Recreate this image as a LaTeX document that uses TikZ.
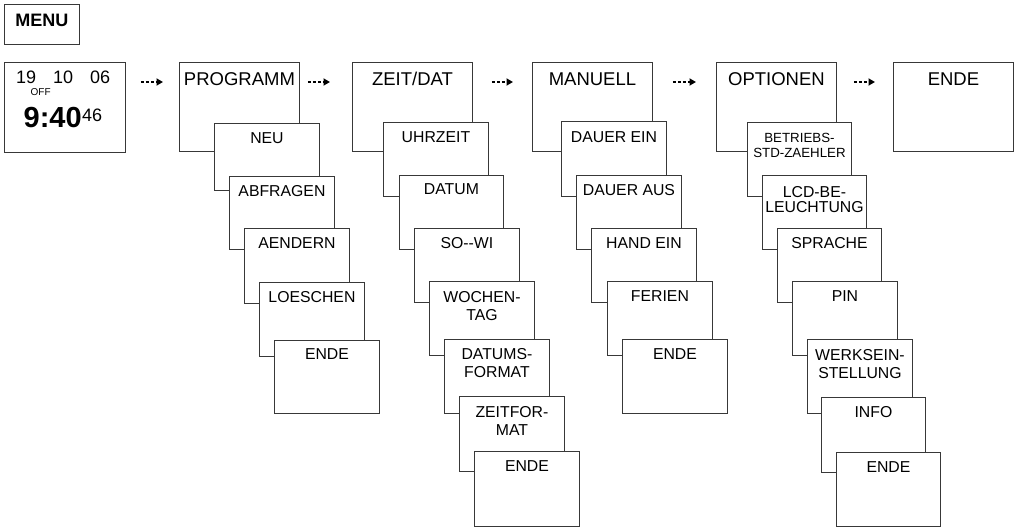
\documentclass[tikz,border=0pt]{standalone}
\usepackage{fontspec}
\setmainfont{Liberation Sans}
\usetikzlibrary{arrows.meta}
\tikzset{
  box/.style={draw=black!78, line width=0.9pt, fill=white, inner sep=0pt, anchor=north west},
  lbl/.style={inner sep=0pt, anchor=base, align=center, font=\fontsize{15.8}{18}\selectfont},
  toplbl/.style={inner sep=0pt, anchor=base, font=\fontsize{18.5}{21}\selectfont},
  txt/.style={inner sep=0pt, anchor=base west, font=\fontsize{18}{21}\selectfont},
  arr/.style={line width=1.7pt, dash pattern=on 3pt off 2pt, -{Triangle[length=6.5pt,width=7pt]}},
}
% [label options]{name}{x}{y}{w}{h}{text}
\newcommand\subbox[7][yshift=-20.6pt]{%
  \node[box, minimum width=#5pt, minimum height=#6pt] (#2) at (#3,#4) {};
  \node[lbl, #1] (#2-t) at (#2.north) {#7};
}
\newcommand\topbox[5]{%
  \node[box, minimum width=120pt, minimum height=89pt] (#1) at (#2,#3) {};
  \node[toplbl, yshift=-#4pt] (#1-t) at (#1.north) {#5};
}
\begin{document}
\begin{tikzpicture}[x=1pt, y=-1pt]
\useasboundingbox (0,0) rectangle (1014,527);

% MENU
\node[box, minimum width=75pt, minimum height=40pt] (menu) at (4,4) {};
\node[inner sep=0pt, anchor=base, font=\bfseries\fontsize{18}{21}\selectfont] (menu-t) at ([yshift=-23pt]menu.north) {MENU};

% clock display
\node[box, minimum width=121pt, minimum height=90pt] (clock) at (4,62) {};
\node[txt] (c19) at (16,84) {19};
\node[txt] (c10) at (53,84) {10};
\node[txt] (c06) at (90,84) {06};
\node[txt, font=\fontsize{10}{12}\selectfont] (coff) at (30.5,95) {OFF};
\node[txt, font=\bfseries\fontsize{29}{33}\selectfont] (ctime) at (23.5,127) {9:40};
\node[txt, anchor=base west] (csec) at ([yshift=6pt]ctime.base east) {46};

% PROGRAMM column
\topbox{prog}{179}{62}{23.6}{PROGRAMM}
\subbox{neu}{214}{123}{105}{67}{NEU}
\subbox{abfr}{229}{176}{105}{73}{ABFRAGEN}
\subbox{aend}{244}{228}{105}{75}{AENDERN}
\subbox{loes}{259}{282}{105}{74}{LOESCHEN}
\subbox[yshift=-19.6pt]{pende}{274}{340}{105}{73}{ENDE}

% ZEIT/DAT column
\topbox{zeit}{352}{62}{23.6}{ZEIT/DAT}
\subbox{uhr}{383}{122}{105}{74}{UHRZEIT}
\subbox[yshift=-19.6pt]{dat}{399}{175}{104}{74}{DATUM}
\subbox{sowi}{414}{228}{105}{74}{SO-{}-WI}
\subbox[yshift=-39.6pt]{woch}{429}{281}{105}{74}{WOCHEN-\\TAG}
\subbox[yshift=-38.8pt]{dfmt}{444}{339}{105}{74}{DATUMS-\\FORMAT}
\subbox[yshift=-39.6pt]{zfmt}{459}{396}{105}{75}{ZEITFOR-\\MAT}
\subbox{zende}{474}{451}{105}{75}{ENDE}

% MANUELL column
\topbox{man}{532}{62}{23.6}{MANUELL}
\subbox[yshift=-21.6pt]{dein}{561}{121}{105}{75}{DAUER EIN}
\subbox{daus}{576}{175}{105}{74}{DAUER AUS}
\subbox{hein}{591}{228}{105}{74}{HAND EIN}
\subbox{fer}{607}{281}{105}{74}{FERIEN}
\subbox{mende}{622}{339}{105}{74}{ENDE}

% OPTIONEN column
\topbox{opt}{716}{62}{23.6}{OPTIONEN}
\subbox[yshift=-35.6pt, font=\fontsize{13.3}{15}\selectfont]{betr}{747}{122}{104}{74}{BETRIEBS-\\STD-ZAEHLER}
\subbox[yshift=-37.6pt, font=\fontsize{15.8}{15}\selectfont]{lcd}{762}{175}{104}{74}{LCD-BE-\\LEUCHTUNG}
\subbox{spr}{777}{228}{104}{74}{SPRACHE}
\subbox{pin}{792}{281}{105}{74}{PIN}
\subbox[yshift=-39.6pt]{werk}{807}{339}{105}{74}{WERKSEIN-\\STELLUNG}
\subbox{info}{821}{397}{104}{75}{INFO}
\subbox{oende}{836}{452}{104}{74}{ENDE}

% final ENDE
\topbox{ende}{893}{62}{23.6}{ENDE}

% arrows
\draw[arr, shorten <=15pt, shorten >=16pt] ([yshift=-20pt]clock.north east) -- ([yshift=-20pt]prog.north west);
\draw[arr, shorten <=8pt, shorten >=22pt] ([yshift=-20pt]prog.north east) -- ([yshift=-20pt]zeit.north west);
\draw[arr, shorten <=19pt, shorten >=19pt] ([yshift=-20pt]zeit.north east) -- ([yshift=-20pt]man.north west);
\draw[arr, shorten <=20pt, shorten >=20pt] ([yshift=-20pt]man.north east) -- ([yshift=-20pt]opt.north west);
\draw[arr, shorten <=17pt, shorten >=18pt] ([yshift=-20pt]opt.north east) -- ([yshift=-20pt]ende.north west);
\end{tikzpicture}
\end{document}
